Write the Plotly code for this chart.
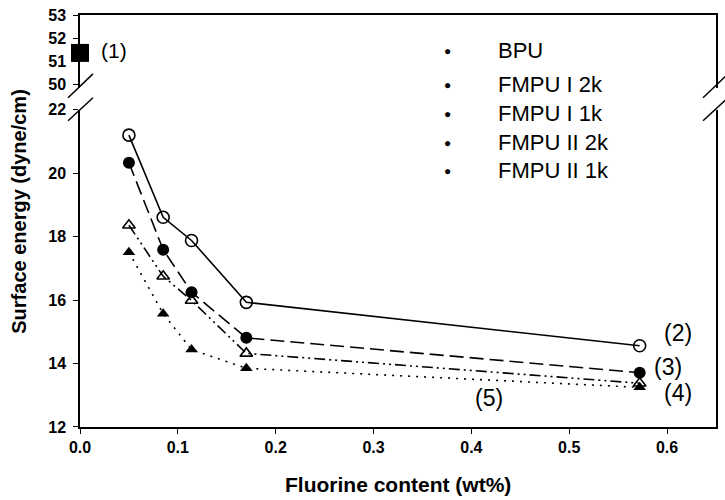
import plotly.graph_objects as go

# ---- data ----
fluorine = [0.050, 0.085, 0.114, 0.170, 0.572]
fmpu_i_2k = [21.20, 18.61, 17.88, 15.93, 14.56]
fmpu_i_1k = [20.33, 17.59, 16.25, 14.81, 13.71]
fmpu_ii_1k = [18.36, 16.75, 15.99, 14.32, 13.38]
fmpu_ii_2k = [17.51, 15.57, 14.44, 13.85, 13.25]
bpu_x = [0.0]
bpu_y = [51.37]
legend_names = ["BPU", "FMPU I 2k", "FMPU I 1k", "FMPU II 2k", "FMPU II 1k"]
point_labels = ["(1)", "(2)", "(3)", "(4)", "(5)"]
x_ticks = [0.0, 0.1, 0.2, 0.3, 0.4, 0.5, 0.6]
y_low_ticks = [12, 14, 16, 18, 20, 22]
y_high_ticks = [50, 51, 52, 53]

FONT = "Liberation Sans, Arial, sans-serif"
L, R, T, B = 80, 7, 14, 73
PW, PH = 725 - L - R, 500 - T - B


def px(xp):
    return (xp - L) / PW


def py(yp):
    return (500 - B - yp) / PH


fig = go.Figure()
fig.add_trace(go.Scatter(x=fluorine, y=fmpu_ii_2k, mode="lines+markers", xaxis="x", yaxis="y",
                         line=dict(color="black", width=1.6, dash="2px,6px"),
                         marker=dict(symbol="triangle-up", size=11, color="black"), cliponaxis=False))
fig.add_trace(go.Scatter(x=fluorine, y=fmpu_ii_1k, mode="lines+markers", xaxis="x", yaxis="y",
                         line=dict(color="black", width=1.6, dash="11px,4px,2px,4px,2px,4px"),
                         marker=dict(symbol="triangle-up-open", size=11, color="black", line=dict(width=1.6)),
                         cliponaxis=False))
fig.add_trace(go.Scatter(x=fluorine, y=fmpu_i_1k, mode="lines+markers", xaxis="x", yaxis="y",
                         line=dict(color="black", width=1.6, dash="14px,6px"),
                         marker=dict(symbol="circle", size=12, color="black"), cliponaxis=False))
fig.add_trace(go.Scatter(x=fluorine, y=fmpu_i_2k, mode="lines+markers", xaxis="x", yaxis="y",
                         line=dict(color="black", width=1.6),
                         marker=dict(symbol="circle-open", size=12, color="black", line=dict(width=1.6)),
                         cliponaxis=False))
fig.add_trace(go.Scatter(x=bpu_x, y=bpu_y, mode="markers", xaxis="x2", yaxis="y2",
                         marker=dict(symbol="square", size=18, color="black"), cliponaxis=False))

tickfont = dict(family=FONT, size=16, color="black", weight="bold")


def bold(vals, fmt):
    return ["<b>" + fmt.format(v) + "</b>" for v in vals]


fig.update_layout(
    width=725, height=500, showlegend=False,
    paper_bgcolor="white", plot_bgcolor="white",
    margin=dict(l=L, r=R, t=T, b=B),
    xaxis=dict(domain=[0, 1], range=[0, 0.65], anchor="y", tickvals=x_ticks,
               ticktext=bold(x_ticks, "{:.1f}"),
               showline=True, linecolor="black", linewidth=1.5, ticks="outside", ticklen=5,
               tickcolor="black", showgrid=False, zeroline=False, tickfont=tickfont),
    xaxis2=dict(domain=[0, 1], range=[0, 0.65], anchor="y2", side="top", showline=True,
                linecolor="black", linewidth=1.5, showticklabels=False, ticks="", showgrid=False,
                zeroline=False),
    yaxis=dict(domain=[0, py(109)], range=[12, 22], anchor="x", tickvals=y_low_ticks,
               ticktext=bold(y_low_ticks, "{}"),
               showline=True, mirror=True, linecolor="black", linewidth=1.5, ticks="outside",
               ticklen=5, tickcolor="black", showgrid=False, zeroline=False, tickfont=tickfont,
               ticklabelstandoff=4),
    yaxis2=dict(domain=[py(87), 1], range=[49.87, 53], anchor="x2", tickvals=y_high_ticks,
                ticktext=bold(y_high_ticks, "{}"),
                showline=True, mirror=True, linecolor="black", linewidth=1.5, ticks="outside",
                ticklen=5, tickcolor="black", showgrid=False, zeroline=False, tickfont=tickfont,
                ticklabelstandoff=4),
)

ann = []
# axis titles
ann.append(dict(text="<b>Surface energy (dyne/cm)</b>", xref="paper", yref="paper", x=px(18), y=py(211),
                textangle=-90, showarrow=False, xanchor="center", yanchor="middle",
                font=dict(family=FONT, size=20, color="black")))
ann.append(dict(text="<b>Fluorine content (wt%)</b>", xref="paper", yref="paper", x=px(399), y=py(485),
                showarrow=False, xanchor="center", yanchor="middle",
                font=dict(family=FONT, size=21, color="black")))
# legend as text list
legend_y = [50, 84, 113, 142, 170]
for name, yy in zip(legend_names, legend_y):
    ann.append(dict(text="\u25CF", xref="paper", yref="paper", x=px(449), y=py(yy),
                    showarrow=False, xanchor="center", yanchor="middle",
                    font=dict(family=FONT, size=12, color="black")))
    ann.append(dict(text=name, xref="paper", yref="paper", x=px(497), y=py(yy),
                    showarrow=False, xanchor="left", yanchor="middle",
                    font=dict(family=FONT, size=22, color="black")))
# point labels
label_px = [(114, 50, 21), (680, 333, 23), (670, 367, 23), (680, 393, 23), (490, 398, 23)]
for lab, (lx, ly, fs) in zip(point_labels, label_px):
    ann.append(dict(text=lab, xref="paper", yref="paper", x=px(lx), y=py(ly), showarrow=False,
                    xanchor="center", yanchor="middle", font=dict(family=FONT, size=fs, color="black")))
fig.update_layout(annotations=ann)

# axis break marks
shapes = []
for (x0, x1) in [(68, 93), (705, 730)]:
    for (y0, y1) in [(97, 73), (120, 97)]:
        shapes.append(dict(type="line", xref="paper", yref="paper",
                           x0=px(x0), x1=px(x1), y0=py(y0), y1=py(y1),
                           line=dict(color="black", width=1.5)))
fig.update_layout(shapes=shapes)

fig.write_html("out.html")
